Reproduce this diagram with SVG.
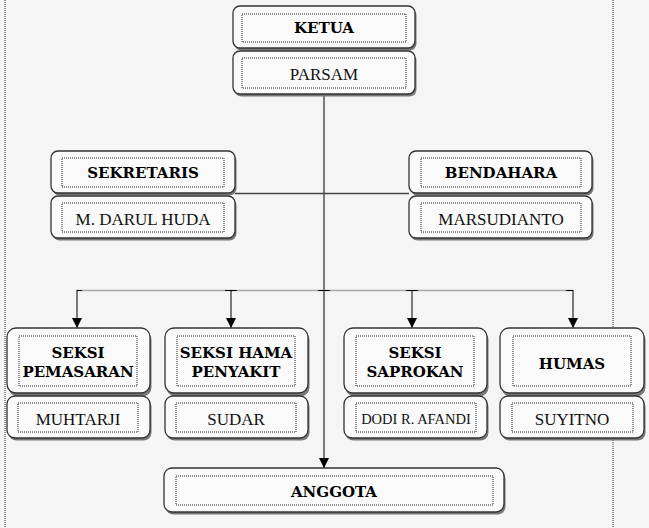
<svg xmlns="http://www.w3.org/2000/svg" width="649" height="528" viewBox="0 0 649 528">
<defs>
<style>
.box{fill:#fafafa;stroke:#333;stroke-width:1.3}
.sh{fill:#777}
.in{fill:none;stroke:#222;stroke-width:1;stroke-dasharray:1 1}
.b{font-family:"DejaVu Serif",serif;font-weight:bold;font-size:15px;fill:#000;text-anchor:middle}
.r{font-family:"Liberation Serif",serif;font-size:17px;fill:#111;text-anchor:middle}
.ln{stroke:#000;stroke-width:1;fill:none}
</style>
<marker id="ah" markerWidth="10" markerHeight="10" refX="10" refY="5" orient="auto" markerUnits="userSpaceOnUse" viewBox="0 0 10 10">
<path d="M0,0 L10,5 L0,10 Z" fill="#000"/>
</marker>
</defs>
<rect x="0" y="0" width="649" height="528" fill="#f5f5f5"/>
<line x1="5" y1="0" x2="5" y2="528" stroke="#333" stroke-dasharray="1 1"/>
<line x1="613" y1="0" x2="613" y2="528" stroke="#333" stroke-dasharray="1 1"/>

<g id="connectors">
<line class="ln" x1="324" y1="94" x2="324" y2="468" marker-end="url(#ah)"/>
<line x1="235" y1="193.5" x2="409" y2="193.5" stroke="#444" stroke-width="1.5"/>
<line x1="77" y1="290.5" x2="573" y2="290.5" stroke="#aaa" stroke-width="1.3"/>
<line x1="225" y1="290.5" x2="237" y2="290.5" stroke="#000"/>
<line x1="406" y1="290.5" x2="418" y2="290.5" stroke="#000"/>
<line x1="318" y1="290.5" x2="330" y2="290.5" stroke="#000"/>
<line x1="566" y1="290.5" x2="573" y2="290.5" stroke="#000"/>
<line x1="77" y1="290.5" x2="82" y2="290.5" stroke="#000"/>
<line class="ln" x1="77" y1="290" x2="77" y2="328" marker-end="url(#ah)"/>
<line class="ln" x1="231" y1="290" x2="231" y2="328" marker-end="url(#ah)"/>
<line class="ln" x1="412" y1="290" x2="412" y2="328" marker-end="url(#ah)"/>
<line class="ln" x1="573" y1="290" x2="573" y2="328" marker-end="url(#ah)"/>
</g>

<g id="ketua">
<rect class="sh" x="234.5" y="8.5" width="182" height="42" rx="7"/>
<rect class="box" x="233" y="6" width="182" height="42" rx="7"/>
<rect class="in" x="242" y="14" width="164" height="28"/>
<text class="b" x="324" y="33">KETUA</text>
</g>
<g id="parsam">
<rect class="sh" x="234.5" y="53.5" width="182" height="43" rx="7"/>
<rect class="box" x="233" y="51" width="182" height="43" rx="7"/>
<rect class="in" x="242" y="58" width="164" height="30"/>
<text class="r" x="324" y="80">PARSAM</text>
</g>

<g id="sekretaris">
<rect class="sh" x="52.5" y="153.5" width="184" height="42" rx="7"/>
<rect class="box" x="51" y="151" width="184" height="42" rx="7"/>
<rect class="in" x="62" y="158" width="162" height="29"/>
<text class="b" x="143" y="178">SEKRETARIS</text>
</g>
<g id="darul">
<rect class="sh" x="52.5" y="198.5" width="184" height="42" rx="7"/>
<rect class="box" x="51" y="196" width="184" height="42" rx="7"/>
<rect class="in" x="62" y="203" width="162" height="29"/>
<text class="r" x="143" y="225">M. DARUL HUDA</text>
</g>

<g id="bendahara">
<rect class="sh" x="410.5" y="153.5" width="183" height="42" rx="7"/>
<rect class="box" x="409" y="151" width="183" height="42" rx="7"/>
<rect class="in" x="421" y="158" width="160" height="29"/>
<text class="b" x="501" y="178">BENDAHARA</text>
</g>
<g id="marsudianto">
<rect class="sh" x="410.5" y="198.5" width="183" height="42" rx="7"/>
<rect class="box" x="409" y="196" width="183" height="42" rx="7"/>
<rect class="in" x="421" y="203" width="160" height="29"/>
<text class="r" x="501" y="225">MARSUDIANTO</text>
</g>

<g id="pemasaran">
<rect class="sh" x="8.5" y="330.5" width="143" height="66" rx="9"/>
<rect class="box" x="7" y="328" width="143" height="65" rx="9"/>
<rect class="in" x="19" y="336" width="118" height="50"/>
<text class="b" x="78" y="358">SEKSI</text>
<text class="b" x="78" y="377">PEMASARAN</text>
</g>
<g id="muhtarji">
<rect class="sh" x="8.5" y="398.5" width="143" height="42" rx="8"/>
<rect class="box" x="7" y="396" width="143" height="42" rx="8"/>
<rect class="in" x="18" y="403" width="120" height="29"/>
<text class="r" x="78" y="425">MUHTARJI</text>
</g>

<g id="hama">
<rect class="sh" x="166.5" y="330.5" width="143" height="66" rx="9"/>
<rect class="box" x="165" y="328" width="143" height="65" rx="9"/>
<rect class="in" x="177" y="336" width="118" height="50"/>
<text class="b" x="236" y="358">SEKSI HAMA</text>
<text class="b" x="236" y="377">PENYAKIT</text>
</g>
<g id="sudar">
<rect class="sh" x="166.5" y="398.5" width="143" height="42" rx="8"/>
<rect class="box" x="165" y="396" width="143" height="42" rx="8"/>
<rect class="in" x="176" y="403" width="120" height="29"/>
<text class="r" x="236" y="425">SUDAR</text>
</g>

<g id="saprokan">
<rect class="sh" x="345.5" y="330.5" width="143" height="66" rx="9"/>
<rect class="box" x="344" y="328" width="143" height="65" rx="9"/>
<rect class="in" x="356" y="336" width="118" height="50"/>
<text class="b" x="415" y="358">SEKSI</text>
<text class="b" x="415" y="377">SAPROKAN</text>
</g>
<g id="dodi">
<rect class="sh" x="345.5" y="398.5" width="143" height="42" rx="8"/>
<rect class="box" x="344" y="396" width="143" height="42" rx="8"/>
<rect class="in" x="356" y="403" width="120" height="29"/>
<text class="r" x="416" y="424" style="font-size:14.5px">DODI R. AFANDI</text>
</g>

<g id="humas">
<rect class="sh" x="501.5" y="330.5" width="144" height="66" rx="9"/>
<rect class="box" x="500" y="328" width="144" height="65" rx="9"/>
<rect class="in" x="513" y="336" width="118" height="50"/>
<text class="b" x="572" y="369">HUMAS</text>
</g>
<g id="suyitno">
<rect class="sh" x="501.5" y="398.5" width="144" height="42" rx="8"/>
<rect class="box" x="500" y="396" width="144" height="42" rx="8"/>
<rect class="in" x="512" y="403" width="121" height="29"/>
<text class="r" x="572" y="425">SUYITNO</text>
</g>

<g id="anggota">
<rect class="sh" x="165.5" y="470.5" width="340" height="44" rx="8"/>
<rect class="box" x="164" y="468" width="340" height="44" rx="8"/>
<rect class="in" x="176" y="476" width="317" height="29"/>
<text class="b" x="334" y="497">ANGGOTA</text>
</g>
</svg>
